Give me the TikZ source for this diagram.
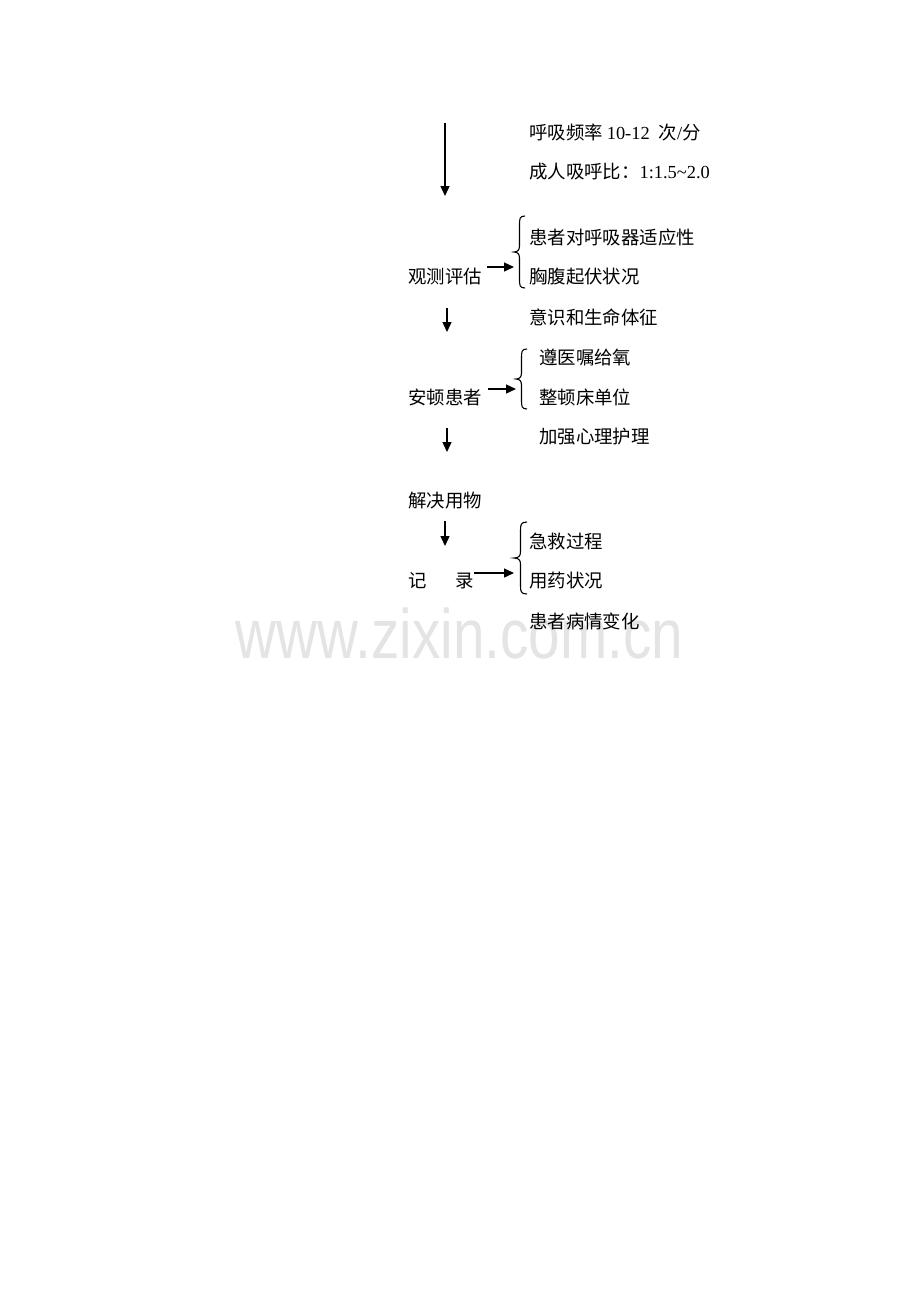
\documentclass[tikz,border=0pt]{standalone}
\usepackage{fontspec}
\setmainfont{Liberation Serif}
\newfontfamily\cjk{Noto Sans CJK SC}
\newfontfamily\wmfont{Liberation Sans}
\usetikzlibrary{arrows.meta}
\definecolor{wm}{RGB}{228,228,228}
\tikzset{
  lbl/.style={anchor=west, inner sep=0pt, font=\fontsize{18.4}{18.4}\selectfont\cjk},
  arr/.style={line width=1.3pt, -{Triangle[length=10pt,width=9pt]}},
  brc/.style={line width=1.1pt},
}
\newcommand\mybrace[4]{% xl xr yt yb ; tip at mid
  \pgfmathsetmacro\xm{(#1+#2)/2}
  \pgfmathsetmacro\ym{(#3+#4)/2}
  \draw[brc] (#2,#3) .. controls (\xm,#3) and (\xm,#3+3) .. (\xm,#3+9)
    -- (\xm,\ym-6) .. controls (\xm,\ym-2) and (\xm-2,\ym) .. (#1,\ym)
    .. controls (\xm-2,\ym) and (\xm,\ym+2) .. (\xm,\ym+6)
    -- (\xm,#4-9) .. controls (\xm,#4-3) and (\xm,#4) .. (#2,#4);
}
\begin{document}
\begin{tikzpicture}[x=1pt,y=-1pt]
\useasboundingbox (0,0) rectangle (920,1302);
% watermark
\node[anchor=base, inner sep=0pt, text=wm, xscale=0.81, font=\fontsize{70}{70}\selectfont\wmfont] (wm) at (459.5,658) {www.zixin.com.cn};

% texts
\node[lbl] (t1) at (529,132) {呼吸频率\hspace{4pt}{\rmfamily 10-12}\hspace{9pt}次{\rmfamily /}分};
\node[lbl] (t2) at (529,172) {成人吸呼比：{\rmfamily 1:1.5\char"7E 2.0}};
\node[lbl] (t3) at (529,237) {患者对呼吸器适应性};
\node[lbl] (t4) at (529,277) {胸腹起伏状况};
\node[lbl] (s1) at (408,277) {观测评估};
\node[lbl] (t5) at (529,317) {意识和生命体征};
\node[lbl] (t6) at (539,357) {遵医嘱给氧};
\node[lbl] (t7) at (539,397) {整顿床单位};
\node[lbl] (s2) at (408,397) {安顿患者};
\node[lbl] (t8) at (539,437) {加强心理护理};
\node[lbl] (s3) at (408,501) {解决用物};
\node[lbl] (t9) at (529,541) {急救过程};
\node[lbl] (t10) at (529,581) {用药状况};
\node[lbl] (s4a) at (408,581) {记};
\node[lbl] (s4) at (455,581) {录};
\node[lbl] (t11) at (529,621) {患者病情变化};

% braces
\mybrace{514}{525}{216}{288}
\mybrace{516}{527}{349}{409}
\mybrace{514}{527}{522}{594}

% connector coordinates
\coordinate (v1a) at (445,123); \coordinate (v1b) at (445,196);
\coordinate (v2a) at (447,308); \coordinate (v2b) at (447,332);
\coordinate (v3a) at (447,428); \coordinate (v3b) at (447,452);
\coordinate (v4a) at (445,521); \coordinate (v4b) at (445,546);
\coordinate (h1a) at (487,267); \coordinate (b1) at (514,267);
\coordinate (h2a) at (488,389); \coordinate (b2) at (516,389);
\coordinate (b3) at (514,573);

\draw[arr] (v1a) -- (v1b);
\draw[arr] (v2a) -- (v2b);
\draw[arr] (v3a) -- (v3b);
\draw[arr] (v4a) -- (v4b);
\draw[arr] (h1a) -- (b1);
\draw[arr] (h2a) -- (b2);
\draw[arr] (s4.east |- b3) -- (b3);
\end{tikzpicture}
\end{document}
